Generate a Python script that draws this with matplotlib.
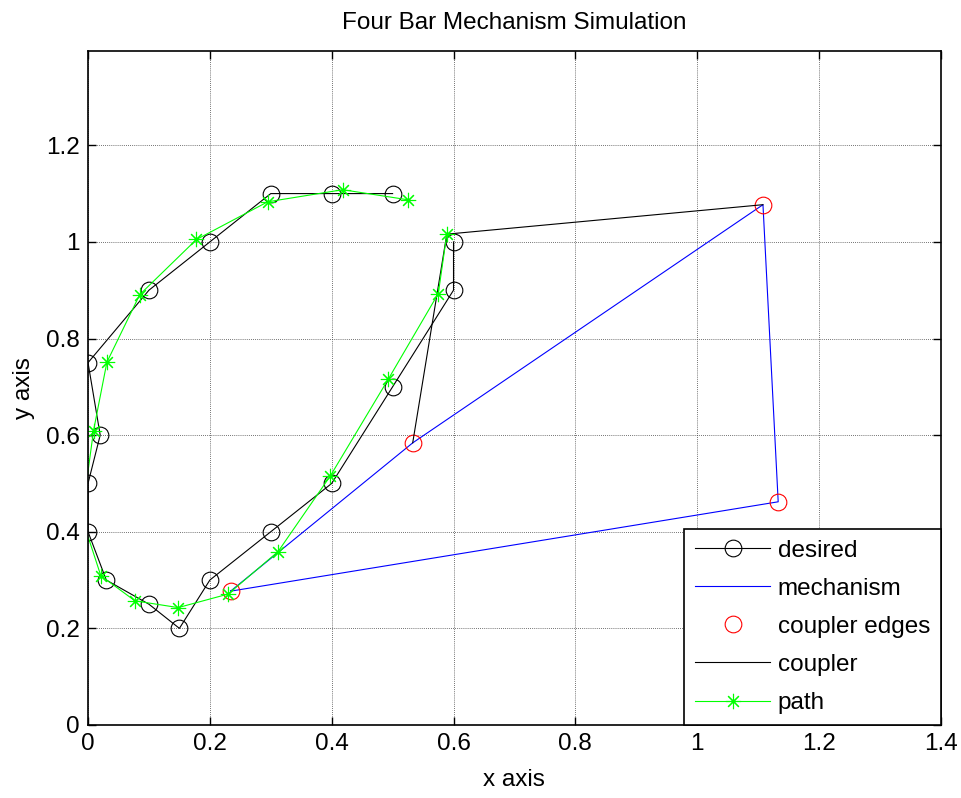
import numpy as np
import matplotlib
matplotlib.use('Agg')
import matplotlib.pyplot as plt

# desired precision points
desired_x = [0.5, 0.4, 0.3, 0.2, 0.1, 0.0, 0.02, 0.0, 0.0, 0.03, 0.1, 0.15, 0.2, 0.3, 0.4, 0.5, 0.6, 0.6]
desired_y = [1.1, 1.1, 1.1, 1.0, 0.9, 0.75, 0.6, 0.5, 0.4, 0.3, 0.25, 0.2, 0.3, 0.4, 0.5, 0.7, 0.9, 1.0]

# mechanism: O2 -> A -> B -> O4 -> O2
mech_x = [0.234, 0.533, 1.108, 1.133, 0.234]
mech_y = [0.277, 0.584, 1.077, 0.462, 0.277]

# coupler edges (red circles)
edge_x = [0.234, 0.533, 1.108, 1.133]
edge_y = [0.277, 0.584, 1.077, 0.462]

# coupler triangle: A -> P -> B
coupler_x = [0.533, 0.589, 1.108]
coupler_y = [0.584, 1.016, 1.077]

# traced coupler path
path_x = [0.526, 0.418, 0.295, 0.178, 0.085, 0.031, 0.009, -0.003, -0.002,
          0.021, 0.077, 0.148, 0.230, 0.312, 0.398, 0.493, 0.575, 0.589]
path_y = [1.087, 1.108, 1.083, 1.005, 0.891, 0.751, 0.609, 0.497, 0.398,
          0.309, 0.257, 0.243, 0.271, 0.359, 0.516, 0.716, 0.893, 1.016]
path_marks = [i for i in range(len(path_x)) if path_x[i] >= 0]

plt.rcParams['font.family'] = ['Liberation Sans', 'DejaVu Sans']
fs = 17.5

fig = plt.figure(figsize=(9.62, 7.98), dpi=100)
ax = fig.add_axes([0.0915, 0.0915, 0.8865, 0.8445])

ax.plot(desired_x, desired_y, color='black', lw=0.8, marker='o', ms=12,
        mfc='none', mec='black', mew=0.8, label='desired')
ax.plot(mech_x, mech_y, color='blue', lw=0.8, label='mechanism')
ax.plot(edge_x, edge_y, ls='none', marker='o', ms=12, mfc='none',
        mec='red', mew=0.8, label='coupler edges')
ax.plot(coupler_x, coupler_y, color='black', lw=0.8, label='coupler')
ax.plot(path_x, path_y, color=(0, 1, 0), lw=0.8, marker=(8, 2, 0), ms=11,
        mec=(0, 1, 0), mew=0.8, markevery=path_marks, label='path')

ax.set_xlim(0, 1.4)
ax.set_ylim(0, 1.395)
ax.set_xticks(np.arange(0, 1.41, 0.2))
ax.set_yticks(np.arange(0, 1.21, 0.2))
ax.set_xticklabels(['0', '0.2', '0.4', '0.6', '0.8', '1', '1.2', '1.4'])
ax.set_yticklabels(['0', '0.2', '0.4', '0.6', '0.8', '1', '1.2'])
ax.tick_params(direction='in', top=True, right=True, length=6, width=1,
               labelsize=fs, pad=6)
ax.grid(True, color='#444444', ls=(0, (1, 1.5)), lw=0.6)
for s in ax.spines.values():
    s.set_linewidth(1.2)

ax.set_title('Four Bar Mechanism Simulation', fontsize=fs, pad=16)
ax.set_xlabel('x axis', fontsize=fs, labelpad=10)
ax.set_ylabel('y axis', fontsize=fs, labelpad=8)

leg = ax.legend(loc='lower right', fontsize=fs, frameon=True, fancybox=False,
                framealpha=1, edgecolor='black', borderaxespad=0,
                handlelength=3.1, labelspacing=0.66, handletextpad=0.3,
                borderpad=0.45)
leg.get_frame().set_linewidth(1.2)

fig.savefig('out.png', dpi=100)
